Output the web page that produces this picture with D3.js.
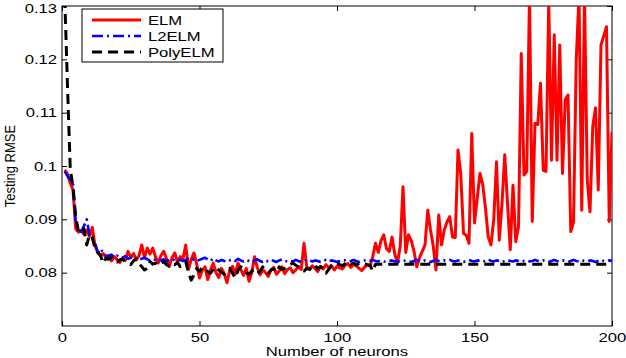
<!DOCTYPE html>
<html>
<head>
<meta charset="utf-8">
<script src="https://d3js.org/d3.v7.min.js"></script>
<style>
  body { margin: 0; background: #fff; }
  text { font-family: "Liberation Sans", Arial, Helvetica, sans-serif; font-size: 13px; fill: #000; }
</style>
</head>
<body>
<div id="chart"></div>
<script>
  // Testing RMSE against number of hidden neurons, one value per neuron (1..200)
  var seriesNames = ["ELM", "L2ELM", "PolyELM"];
  var xTicks = [0, 50, 100, 150, 200];
  var yTicks = [0.08, 0.09, 0.1, 0.11, 0.12, 0.13];

  var elm = [
    0.0993,0.0985,0.0968,0.0955,0.0882,0.0876,0.0879,0.0872,0.0880,0.0868,
    0.0885,0.0850,0.0838,0.0832,0.0836,0.0828,0.0833,0.0822,0.0830,0.0825,
    0.0819,0.0828,0.0823,0.0840,0.0828,0.0836,0.0824,0.0832,0.0852,0.0828,
    0.0846,0.0835,0.0846,0.0830,0.0818,0.0832,0.0840,0.0826,0.0812,0.0828,
    0.0837,0.0820,0.0830,0.0826,0.0852,0.0806,0.0825,0.0837,0.0815,0.0790,
    0.0804,0.0811,0.0787,0.0805,0.0818,0.0800,0.0791,0.0808,0.0798,0.0781,
    0.0805,0.0812,0.0797,0.0818,0.0806,0.0795,0.0808,0.0784,0.0800,0.0830,
    0.0810,0.0796,0.0806,0.0800,0.0793,0.0805,0.0810,0.0797,0.0803,0.0811,
    0.0798,0.0806,0.0809,0.0800,0.0805,0.0811,0.0806,0.0855,0.0811,0.0806,
    0.0813,0.0808,0.0802,0.0812,0.0807,0.0815,0.0809,0.0813,0.0805,0.0812,
    0.0809,0.0807,0.0814,0.0817,0.0810,0.0815,0.0813,0.0808,0.0804,0.0810,
    0.0815,0.0812,0.0830,0.0855,0.0838,0.0860,0.0871,0.0845,0.0840,0.0867,
    0.0835,0.0818,0.0850,0.0961,0.0838,0.0871,0.0860,0.0840,0.0811,0.0828,
    0.0840,0.0852,0.0917,0.0880,0.0850,0.0805,0.0908,0.0852,0.0880,0.0895,
    0.0905,0.0867,0.0866,0.1030,0.0985,0.0874,0.0870,0.0855,0.1061,0.0893,
    0.0940,0.0986,0.0965,0.0920,0.0867,0.0852,0.0900,0.1008,0.0861,0.0930,
    0.1021,0.0930,0.0843,0.0964,0.0858,0.0886,0.1211,0.0983,0.0990,0.1320,
    0.0896,0.1080,0.1078,0.1155,0.0992,0.0990,0.1310,0.1011,0.1246,0.1011,
    0.1227,0.0986,0.1124,0.1133,0.0877,0.0895,0.1199,0.1320,0.0917,0.1320,
    0.0974,0.0914,0.1074,0.1109,0.0955,0.1227,0.1244,0.1261,0.0896,0.1064
  ];

  var l2elm = [
    0.0990,0.0981,0.0974,0.0968,0.0892,0.0881,0.0877,0.0888,0.0900,0.0871,
    0.0863,0.0856,0.0838,0.0845,0.0837,0.0832,0.0830,0.0834,0.0828,0.0832,
    0.0830,0.0828,0.0831,0.0826,0.0828,0.0825,0.0827,0.0824,0.0826,0.0828,
    0.0825,0.0823,0.0826,0.0824,0.0826,0.0823,0.0825,0.0822,0.0824,0.0826,
    0.0823,0.0825,0.0824,0.0822,0.0824,0.0826,0.0823,0.0825,0.0822,0.0824,
    0.0826,0.0828,0.0825,0.0822,0.0827,0.0823,0.0821,0.0824,0.0822,0.0820,
    0.0823,0.0825,0.0822,0.0826,0.0823,0.0821,0.0824,0.0822,0.0820,0.0823,
    0.0825,0.0822,0.0820,0.0823,0.0821,0.0824,0.0822,0.0820,0.0823,0.0825,
    0.0822,0.0821,0.0823,0.0821,0.0824,0.0822,0.0820,0.0822,0.0825,0.0823,
    0.0821,0.0823,0.0822,0.0820,0.0822,0.0824,0.0821,0.0823,0.0822,0.0820,
    0.0822,0.0824,0.0823,0.0821,0.0822,0.0824,0.0822,0.0820,0.0822,0.0823,
    0.0821,0.0822,0.0824,0.0822,0.0821,0.0823,0.0821,0.0820,0.0822,0.0823,
    0.0821,0.0822,0.0820,0.0822,0.0823,0.0821,0.0820,0.0822,0.0824,0.0822,
    0.0821,0.0823,0.0822,0.0820,0.0822,0.0824,0.0822,0.0821,0.0823,0.0822,
    0.0824,0.0822,0.0821,0.0823,0.0821,0.0820,0.0822,0.0824,0.0822,0.0821,
    0.0823,0.0822,0.0820,0.0822,0.0825,0.0822,0.0821,0.0823,0.0822,0.0820,
    0.0822,0.0824,0.0822,0.0821,0.0823,0.0822,0.0820,0.0822,0.0823,0.0821,
    0.0822,0.0824,0.0822,0.0821,0.0823,0.0822,0.0820,0.0822,0.0824,0.0822,
    0.0821,0.0823,0.0822,0.0820,0.0822,0.0824,0.0822,0.0821,0.0823,0.0822,
    0.0821,0.0823,0.0822,0.0820,0.0822,0.0824,0.0822,0.0821,0.0823,0.0822
  ];

  var polyelm = [
    0.1315,0.1150,0.0995,0.0960,0.0905,0.0877,0.0874,0.0882,0.0852,0.0871,
    0.0866,0.0846,0.0838,0.0832,0.0818,0.0827,0.0825,0.0828,0.0822,0.0820,
    0.0824,0.0826,0.0820,0.0817,0.0815,0.0822,0.0826,0.0818,0.0811,0.0805,
    0.0808,0.0821,0.0816,0.0818,0.0814,0.0817,0.0821,0.0815,0.0812,0.0817,
    0.0815,0.0819,0.0811,0.0814,0.0821,0.0800,0.0786,0.0796,0.0808,0.0802,
    0.0810,0.0806,0.0802,0.0799,0.0806,0.0811,0.0805,0.0801,0.0797,0.0803,
    0.0808,0.0799,0.0790,0.0804,0.0811,0.0807,0.0800,0.0797,0.0803,0.0806,
    0.0799,0.0802,0.0811,0.0804,0.0799,0.0805,0.0807,0.0801,0.0811,0.0806,
    0.0808,0.0812,0.0815,0.0818,0.0814,0.0811,0.0806,0.0803,0.0808,0.0806,
    0.0812,0.0815,0.0807,0.0811,0.0808,0.0799,0.0806,0.0814,0.0816,0.0818,
    0.0815,0.0813,0.0817,0.0821,0.0816,0.0818,0.0815,0.0817,0.0819,0.0817,
    0.0815,0.0814,0.0803,0.0816,0.0816,0.0816,0.0816,0.0816,0.0816,0.0816,
    0.0816,0.0816,0.0816,0.0816,0.0816,0.0816,0.0816,0.0816,0.0816,0.0816,
    0.0816,0.0816,0.0816,0.0816,0.0816,0.0816,0.0816,0.0816,0.0816,0.0816,
    0.0816,0.0816,0.0816,0.0816,0.0816,0.0816,0.0816,0.0816,0.0816,0.0816,
    0.0816,0.0816,0.0816,0.0816,0.0816,0.0816,0.0816,0.0816,0.0816,0.0816,
    0.0816,0.0816,0.0816,0.0816,0.0816,0.0816,0.0816,0.0816,0.0816,0.0816,
    0.0816,0.0816,0.0816,0.0816,0.0816,0.0816,0.0816,0.0816,0.0816,0.0816,
    0.0816,0.0816,0.0816,0.0816,0.0816,0.0816,0.0816,0.0816,0.0816,0.0816,
    0.0816,0.0816,0.0816,0.0816,0.0816,0.0816,0.0816,0.0816,0.0816,0.0816
  ];

  var width = 626, height = 358;
  var margin = { top: 6, right: 14, bottom: 32, left: 62 };
  var sx = 1.28; // the source picture is stretched sideways, text too

  var x = d3.scaleLinear().domain([0, 200]).range([margin.left, width - margin.right]);
  var y = d3.scaleLinear().domain([0.07, 0.13]).range([height - margin.bottom, margin.top]);

  var svg = d3.select("#chart").append("svg")
    .attr("width", width)
    .attr("height", height);

  svg.append("defs").append("clipPath").attr("id", "plotclip")
    .append("rect")
    .attr("x", x(0)).attr("y", y(0.13))
    .attr("width", x(200) - x(0)).attr("height", y(0.07) - y(0.13));

  function stretchText(sel, dyTop) {
    sel.each(function (d) {
      var t = d3.select(this);
      var tx = +t.attr("x") || 0;
      var ty = +t.attr("y") || 0;
      // top label is nudged down so it stays inside the picture
      if (dyTop && d === 0.13) ty += dyTop;
      t.attr("x", 0).attr("y", 0)
        .attr("transform", "translate(" + tx + "," + ty + ") scale(" + sx + ",1)");
    });
  }

  // axes with inward ticks, MATLAB style
  var gx = svg.append("g")
    .attr("transform", "translate(0," + y(0.07) + ")")
    .call(d3.axisBottom(x).tickValues(xTicks).tickSize(-5).tickSizeOuter(0).tickPadding(7));
  var gy = svg.append("g")
    .attr("transform", "translate(" + x(0) + ",0)")
    .call(d3.axisLeft(y).tickValues(yTicks).tickSize(-5).tickSizeOuter(0).tickPadding(5)
      .tickFormat(function (d) { return d3.format("")(+d.toFixed(2)); }));
  var gxt = svg.append("g")
    .attr("transform", "translate(0," + y(0.13) + ")")
    .call(d3.axisTop(x).tickValues(xTicks).tickSize(-5).tickSizeOuter(0).tickFormat(""));
  var gyr = svg.append("g")
    .attr("transform", "translate(" + x(200) + ",0)")
    .call(d3.axisRight(y).tickValues(yTicks).tickSize(-5).tickSizeOuter(0).tickFormat(""));

  [gx, gy, gxt, gyr].forEach(function (g) {
    g.select(".domain").remove();
    g.selectAll("line").attr("stroke", "#000");
    g.selectAll("text").attr("font-size", 13).attr("font-family", null).attr("fill", "#000");
  });
  stretchText(gx.selectAll("text"), 0);
  stretchText(gy.selectAll("text"), 2.5);

  // plot frame
  svg.append("rect")
    .attr("x", x(0)).attr("y", y(0.13))
    .attr("width", x(200) - x(0)).attr("height", y(0.07) - y(0.13))
    .attr("fill", "none").attr("stroke", "#000").attr("stroke-width", 1);

  var line = d3.line()
    .x(function (d, i) { return x(i + 1); })
    .y(function (d) { return y(d); });

  var styles = [
    { data: elm, color: "#ff0000", dash: null, w: 3 },
    { data: l2elm, color: "#0000ff", dash: "11,4,2,4", w: 2.6 },
    { data: polyelm, color: "#000000", dash: "10,6", w: 3 }
  ];

  var plot = svg.append("g").attr("clip-path", "url(#plotclip)");
  styles.forEach(function (s) {
    plot.append("path")
      .datum(s.data)
      .attr("d", line)
      .attr("fill", "none")
      .attr("stroke", s.color)
      .attr("stroke-width", s.w)
      .attr("stroke-linejoin", "round")
      .attr("stroke-dasharray", s.dash);
  });

  // legend
  var lg = svg.append("g");
  lg.append("rect")
    .attr("x", 82).attr("y", 9).attr("width", 141).attr("height", 53)
    .attr("fill", "#fff").attr("stroke", "#000").attr("stroke-width", 1);
  var rowY = [20, 36, 52];
  seriesNames.forEach(function (name, i) {
    lg.append("line")
      .attr("x1", 92).attr("x2", 141)
      .attr("y1", rowY[i]).attr("y2", rowY[i])
      .attr("stroke", styles[i].color)
      .attr("stroke-width", styles[i].w)
      .attr("stroke-dasharray", styles[i].dash);
    lg.append("text")
      .attr("transform", "translate(148," + (rowY[i] + 4.6) + ") scale(" + sx + ",1)")
      .text(name);
  });

  // axis titles
  svg.append("text")
    .attr("transform", "translate(" + ((x(0) + x(200)) / 2) + ",355.5) scale(" + sx + ",1)")
    .attr("text-anchor", "middle")
    .text("Number of neurons");
  svg.append("text")
    .attr("transform", "translate(15," + ((y(0.07) + y(0.13)) / 2) + ") rotate(-90) scale(1,1.12)")
    .attr("text-anchor", "middle")
    .text("Testing RMSE");
</script>
</body>
</html>
